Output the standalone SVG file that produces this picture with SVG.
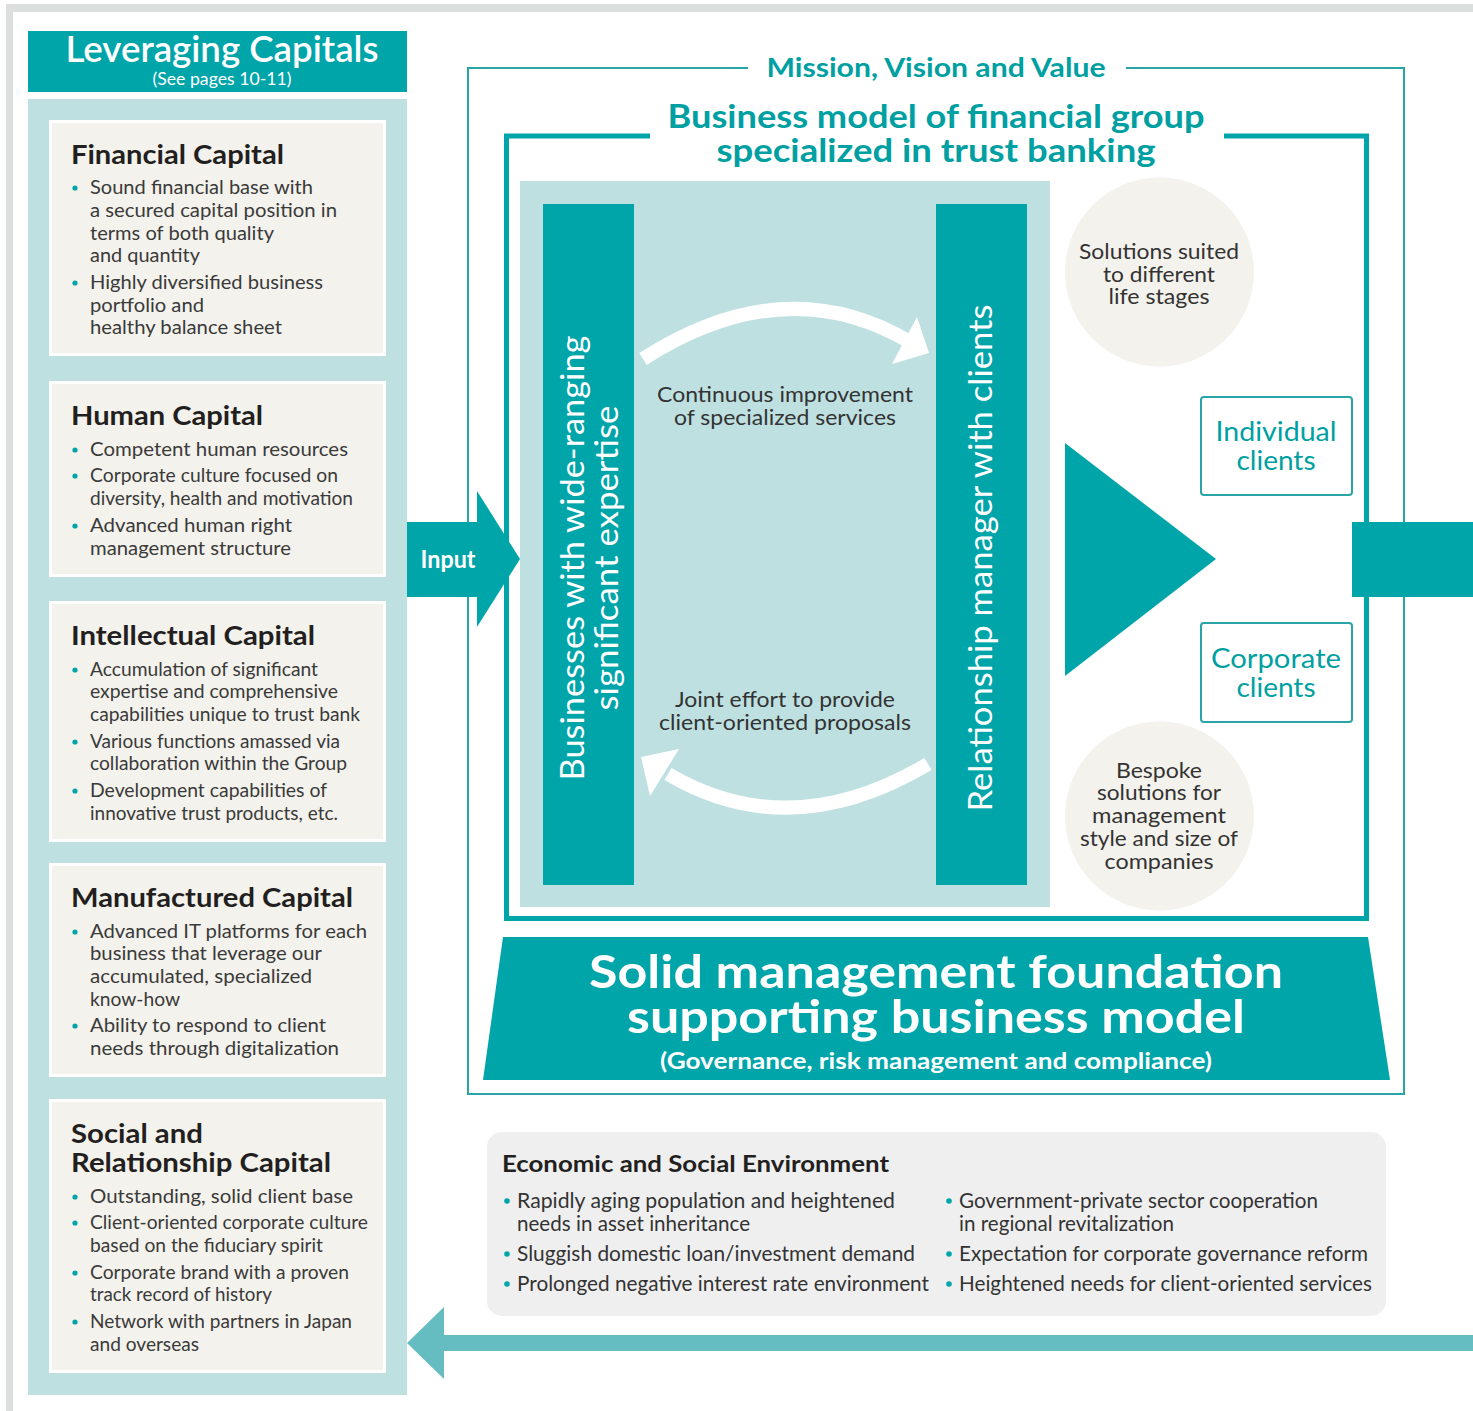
<svg xmlns="http://www.w3.org/2000/svg" width="1473" height="1411" viewBox="0 0 1473 1411">
<style>
.f{font-family:Lato,"Noto Sans","Liberation Sans",sans-serif}
.ttl{font-family:Lato,"Noto Sans",sans-serif;font-weight:700;font-size:27px;fill:#231f20}
.bd{font-family:Lato,"Noto Sans",sans-serif;font-size:19.5px;fill:#3a3a3a}
.dot{fill:#00a5aa}
.teal{fill:#00a5aa}
.cap{fill:#f4f2ec;stroke:#ffffff;stroke-width:3}
.ctr{text-anchor:middle}
.dk{font-family:Lato,"Noto Sans",sans-serif;font-size:21px;fill:#333333}
.wt{fill:#ffffff}
.cnd{font-family:Lato,"Noto Sans",sans-serif;font-weight:700}
.env{font-family:Lato,"Noto Sans",sans-serif;font-size:21px;fill:#333333}
.cl{font-family:Lato,"Noto Sans",sans-serif;font-size:27px;fill:#00a0a2}
</style>
<rect width="1473" height="1411" fill="#ffffff"/>
<g id="frame">
<rect x="6" y="4" width="1467" height="8" fill="#dddfde"/>
<rect x="6" y="4" width="7" height="1407" fill="#dddfde"/>
</g>

<g id="leveraging-header">
<rect x="28" y="31" width="379" height="61" class="teal"/>
<text x="222" y="62" class="f ctr wt" font-size="36" font-weight="600" textLength="313" lengthAdjust="spacingAndGlyphs">Leveraging Capitals</text>
<text x="222" y="85" class="f ctr wt" font-size="17" textLength="139" lengthAdjust="spacingAndGlyphs">(See pages 10-11)</text>
</g>
<rect x="28" y="99" width="379" height="1296" fill="#bee0e1"/>

<g id="financial-capital">
<rect x="50.5" y="121.5" width="334" height="233" class="cap"/>
<text x="71" y="164" class="ttl" textLength="213" lengthAdjust="spacingAndGlyphs">Financial Capital</text>
<circle cx="75" cy="188" r="2.6" class="dot"/>
<circle cx="75" cy="283" r="2.6" class="dot"/>
<text x="90" y="194" class="bd" textLength="223" lengthAdjust="spacingAndGlyphs">Sound financial base with</text>
<text x="90" y="217" class="bd" textLength="247" lengthAdjust="spacingAndGlyphs">a secured capital position in</text>
<text x="90" y="240" class="bd" textLength="184" lengthAdjust="spacingAndGlyphs">terms of both quality</text>
<text x="90" y="262" class="bd" textLength="110" lengthAdjust="spacingAndGlyphs">and quantity</text>
<text x="90" y="289" class="bd" textLength="233" lengthAdjust="spacingAndGlyphs">Highly diversified business</text>
<text x="90" y="312" class="bd" textLength="114" lengthAdjust="spacingAndGlyphs">portfolio and</text>
<text x="90" y="334" class="bd" textLength="192" lengthAdjust="spacingAndGlyphs">healthy balance sheet</text>
</g>

<g id="human-capital">
<rect x="50.5" y="382.5" width="334" height="193" class="cap"/>
<text x="71" y="425" class="ttl" textLength="192" lengthAdjust="spacingAndGlyphs">Human Capital</text>
<circle cx="75" cy="450" r="2.6" class="dot"/>
<circle cx="75" cy="476" r="2.6" class="dot"/>
<circle cx="75" cy="526" r="2.6" class="dot"/>
<text x="90" y="456" class="bd" textLength="258" lengthAdjust="spacingAndGlyphs">Competent human resources</text>
<text x="90" y="482" class="bd" textLength="248" lengthAdjust="spacingAndGlyphs">Corporate culture focused on</text>
<text x="90" y="505" class="bd" textLength="263" lengthAdjust="spacingAndGlyphs">diversity, health and motivation</text>
<text x="90" y="532" class="bd" textLength="202" lengthAdjust="spacingAndGlyphs">Advanced human right</text>
<text x="90" y="555" class="bd" textLength="201" lengthAdjust="spacingAndGlyphs">management structure</text>
</g>

<g id="intellectual-capital">
<rect x="50.5" y="602.5" width="334" height="238" class="cap"/>
<text x="71" y="645" class="ttl" textLength="244" lengthAdjust="spacingAndGlyphs">Intellectual Capital</text>
<circle cx="75" cy="670" r="2.6" class="dot"/>
<circle cx="75" cy="742" r="2.6" class="dot"/>
<circle cx="75" cy="791" r="2.6" class="dot"/>
<text x="90" y="676" class="bd" textLength="228" lengthAdjust="spacingAndGlyphs">Accumulation of significant</text>
<text x="90" y="698" class="bd" textLength="248" lengthAdjust="spacingAndGlyphs">expertise and comprehensive</text>
<text x="90" y="721" class="bd" textLength="270" lengthAdjust="spacingAndGlyphs">capabilities unique to trust bank</text>
<text x="90" y="748" class="bd" textLength="250" lengthAdjust="spacingAndGlyphs">Various functions amassed via</text>
<text x="90" y="770" class="bd" textLength="257" lengthAdjust="spacingAndGlyphs">collaboration within the Group</text>
<text x="90" y="797" class="bd" textLength="237" lengthAdjust="spacingAndGlyphs">Development capabilities of</text>
<text x="90" y="820" class="bd" textLength="248" lengthAdjust="spacingAndGlyphs">innovative trust products, etc.</text>
</g>

<g id="manufactured-capital">
<rect x="50.5" y="864.5" width="334" height="211" class="cap"/>
<text x="71" y="907" class="ttl" textLength="282" lengthAdjust="spacingAndGlyphs">Manufactured Capital</text>
<circle cx="75" cy="932" r="2.6" class="dot"/>
<circle cx="75" cy="1026" r="2.6" class="dot"/>
<text x="90" y="938" class="bd" textLength="277" lengthAdjust="spacingAndGlyphs">Advanced IT platforms for each</text>
<text x="90" y="960" class="bd" textLength="232" lengthAdjust="spacingAndGlyphs">business that leverage our</text>
<text x="90" y="983" class="bd" textLength="222" lengthAdjust="spacingAndGlyphs">accumulated, specialized</text>
<text x="90" y="1006" class="bd" textLength="90" lengthAdjust="spacingAndGlyphs">know-how</text>
<text x="90" y="1032" class="bd" textLength="236" lengthAdjust="spacingAndGlyphs">Ability to respond to client</text>
<text x="90" y="1055" class="bd" textLength="249" lengthAdjust="spacingAndGlyphs">needs through digitalization</text>
</g>

<g id="social-capital">
<rect x="50.5" y="1100.5" width="334" height="271" class="cap"/>
<text x="71" y="1143" class="ttl" textLength="132" lengthAdjust="spacingAndGlyphs">Social and</text>
<text x="71" y="1172" class="ttl" textLength="260" lengthAdjust="spacingAndGlyphs">Relationship Capital</text>
<circle cx="75" cy="1197" r="2.6" class="dot"/>
<circle cx="75" cy="1223" r="2.6" class="dot"/>
<circle cx="75" cy="1273" r="2.6" class="dot"/>
<circle cx="75" cy="1322" r="2.6" class="dot"/>
<text x="90" y="1203" class="bd" textLength="263" lengthAdjust="spacingAndGlyphs">Outstanding, solid client base</text>
<text x="90" y="1229" class="bd" textLength="278" lengthAdjust="spacingAndGlyphs">Client-oriented corporate culture</text>
<text x="90" y="1252" class="bd" textLength="233" lengthAdjust="spacingAndGlyphs">based on the fiduciary spirit</text>
<text x="90" y="1279" class="bd" textLength="259" lengthAdjust="spacingAndGlyphs">Corporate brand with a proven</text>
<text x="90" y="1301" class="bd" textLength="182" lengthAdjust="spacingAndGlyphs">track record of history</text>
<text x="90" y="1328" class="bd" textLength="262" lengthAdjust="spacingAndGlyphs">Network with partners in Japan</text>
<text x="90" y="1351" class="bd" textLength="109" lengthAdjust="spacingAndGlyphs">and overseas</text>
</g>

<g id="mission-frame">
<path d="M748 68 H468 V1094 H1404 V68 H1126" fill="none" stroke="#29a5a8" stroke-width="2"/>
<text x="936" y="77" class="cnd ctr" font-size="26" fill="#00a0a2" textLength="339" lengthAdjust="spacingAndGlyphs">Mission, Vision and Value</text>
</g>

<g id="business-model-frame">
<path d="M650 136 H506.5 V918.5 H1366.5 V136 H1224" fill="none" stroke="#00a5aa" stroke-width="5"/>
<text x="936" y="128" class="cnd ctr" font-size="32" fill="#00a0a2" textLength="537" lengthAdjust="spacingAndGlyphs">Business model of financial group</text>
<text x="936" y="162" class="cnd ctr" font-size="32" fill="#00a0a2" textLength="439" lengthAdjust="spacingAndGlyphs">specialized in trust banking</text>
</g>

<rect x="520" y="181" width="530" height="726" fill="#bee0e1"/>

<g id="businesses-bar">
<rect x="543" y="204" width="91" height="681" class="teal"/>
<text transform="translate(584,558) rotate(-90)" class="f ctr wt" font-size="33" textLength="445" lengthAdjust="spacingAndGlyphs">Businesses with wide-ranging</text>
<text transform="translate(618,558) rotate(-90)" class="f ctr wt" font-size="33" textLength="305" lengthAdjust="spacingAndGlyphs">significant expertise</text>
</g>

<g id="relationship-bar">
<rect x="936" y="204" width="91" height="681" class="teal"/>
<text transform="translate(992,558) rotate(-90)" class="f ctr wt" font-size="33" textLength="507" lengthAdjust="spacingAndGlyphs">Relationship manager with clients</text>
</g>

<g id="connectors">
<path d="M643 359 Q785 268 910 342" fill="none" stroke="#ffffff" stroke-width="14"/>
<polygon points="917,317 929,353 892,364" fill="#ffffff"/>
<path d="M928 764 Q790 846 668 774" fill="none" stroke="#ffffff" stroke-width="14"/>
<polygon points="679,749 641,757 650,796" fill="#ffffff"/>
<g id="input-arrow">
<rect x="407" y="522" width="71" height="75" class="teal"/>
<polygon points="477,491 520,559 477,627" class="teal"/>
<text x="448" y="568" class="cnd ctr wt" font-size="24" textLength="55" lengthAdjust="spacingAndGlyphs">Input</text>
</g>
<polygon points="1065,443 1216,559 1065,676" class="teal"/>
<rect x="1352" y="522" width="121" height="75" class="teal"/>
<rect x="443" y="1335" width="1030" height="16" fill="#66bdc1"/>
<polygon points="444,1307 407,1343 444,1379" fill="#66bdc1"/>
</g>

<g id="loop-labels">
<text x="785" y="402" class="dk ctr" textLength="256" lengthAdjust="spacingAndGlyphs">Continuous improvement</text>
<text x="785" y="425" class="dk ctr" textLength="222" lengthAdjust="spacingAndGlyphs">of specialized services</text>
<text x="785" y="707" class="dk ctr" textLength="220" lengthAdjust="spacingAndGlyphs">Joint effort to provide</text>
<text x="785" y="730" class="dk ctr" textLength="252" lengthAdjust="spacingAndGlyphs">client-oriented proposals</text>
</g>

<g id="life-stages">
<circle cx="1159.5" cy="272" r="94.5" fill="#f4f2ec"/>
<text x="1159" y="259" class="dk ctr" textLength="160" lengthAdjust="spacingAndGlyphs">Solutions suited</text>
<text x="1159" y="282" class="dk ctr" textLength="112" lengthAdjust="spacingAndGlyphs">to different</text>
<text x="1159" y="304" class="dk ctr" textLength="101" lengthAdjust="spacingAndGlyphs">life stages</text>
</g>

<g id="bespoke">
<circle cx="1159.5" cy="816" r="94.5" fill="#f4f2ec"/>
<text x="1159" y="778" class="dk ctr" textLength="86" lengthAdjust="spacingAndGlyphs">Bespoke</text>
<text x="1159" y="800" class="dk ctr" textLength="124" lengthAdjust="spacingAndGlyphs">solutions for</text>
<text x="1159" y="823" class="dk ctr" textLength="134" lengthAdjust="spacingAndGlyphs">management</text>
<text x="1159" y="846" class="dk ctr" textLength="158" lengthAdjust="spacingAndGlyphs">style and size of</text>
<text x="1159" y="869" class="dk ctr" textLength="109" lengthAdjust="spacingAndGlyphs">companies</text>
</g>

<g id="individual-clients">
<rect x="1201" y="397" width="151" height="98" rx="3" fill="#ffffff" stroke="#29a5a8" stroke-width="2"/>
<text x="1276" y="441" class="cl ctr" textLength="121" lengthAdjust="spacingAndGlyphs">Individual</text>
<text x="1276" y="470" class="cl ctr" textLength="79" lengthAdjust="spacingAndGlyphs">clients</text>
</g>

<g id="corporate-clients">
<rect x="1201" y="623" width="151" height="99" rx="3" fill="#ffffff" stroke="#29a5a8" stroke-width="2"/>
<text x="1276" y="668" class="cl ctr" textLength="130" lengthAdjust="spacingAndGlyphs">Corporate</text>
<text x="1276" y="697" class="cl ctr" textLength="79" lengthAdjust="spacingAndGlyphs">clients</text>
</g>

<g id="foundation">
<polygon points="503,937 1368,937 1390,1080 483,1080" class="teal"/>
<text x="936" y="988" class="cnd ctr wt" font-size="45" textLength="694" lengthAdjust="spacingAndGlyphs">Solid management foundation</text>
<text x="936" y="1033" class="cnd ctr wt" font-size="45" textLength="618" lengthAdjust="spacingAndGlyphs">supporting business model</text>
<text x="936" y="1069" class="cnd ctr wt" font-size="22" textLength="552" lengthAdjust="spacingAndGlyphs">(Governance, risk management and compliance)</text>
</g>

<g id="environment">
<rect x="487" y="1132" width="899" height="184" rx="15" fill="#efefef"/>
<text x="502" y="1172" class="cnd" font-size="23" fill="#231f20" textLength="387" lengthAdjust="spacingAndGlyphs">Economic and Social Environment</text>
<circle cx="507" cy="1201" r="2.8" class="dot"/>
<circle cx="507" cy="1254" r="2.8" class="dot"/>
<circle cx="507" cy="1284" r="2.8" class="dot"/>
<circle cx="949" cy="1201" r="2.8" class="dot"/>
<circle cx="949" cy="1254" r="2.8" class="dot"/>
<circle cx="949" cy="1284" r="2.8" class="dot"/>
<text x="517" y="1208" class="env" textLength="378" lengthAdjust="spacingAndGlyphs">Rapidly aging population and heightened</text>
<text x="517" y="1231" class="env" textLength="233" lengthAdjust="spacingAndGlyphs">needs in asset inheritance</text>
<text x="517" y="1261" class="env" textLength="398" lengthAdjust="spacingAndGlyphs">Sluggish domestic loan/investment demand</text>
<text x="517" y="1291" class="env" textLength="412" lengthAdjust="spacingAndGlyphs">Prolonged negative interest rate environment</text>
<text x="959" y="1208" class="env" textLength="359" lengthAdjust="spacingAndGlyphs">Government-private sector cooperation</text>
<text x="959" y="1231" class="env" textLength="215" lengthAdjust="spacingAndGlyphs">in regional revitalization</text>
<text x="959" y="1261" class="env" textLength="409" lengthAdjust="spacingAndGlyphs">Expectation for corporate governance reform</text>
<text x="959" y="1291" class="env" textLength="413" lengthAdjust="spacingAndGlyphs">Heightened needs for client-oriented services</text>
</g>
</svg>
